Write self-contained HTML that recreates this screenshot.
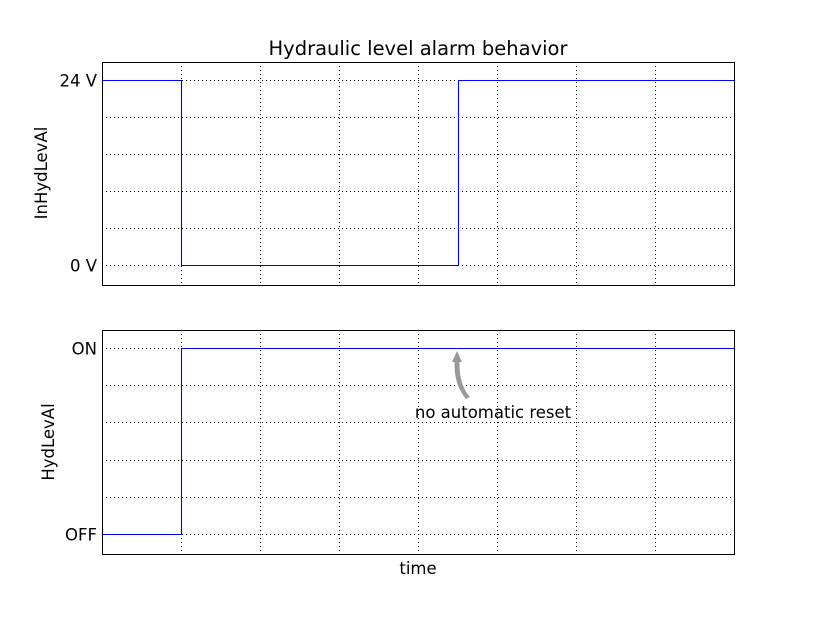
<!DOCTYPE html>
<html><head><meta charset="utf-8"><style>
body{margin:0;background:#fff}
text{font-family:"DejaVu Sans","Liberation Sans",sans-serif;fill:#000}
</style></head><body>
<svg id="chart" width="815" height="615" xmlns="http://www.w3.org/2000/svg">
<rect width="815" height="615" fill="#fff"/>
<text x="418" y="55" font-size="19.5" text-anchor="middle">Hydraulic level alarm behavior</text>
<g id="top"></g>
<g id="bot"></g>
<text x="47" y="173" font-size="16.5" text-anchor="middle" transform="rotate(-90 47 173)">InHydLevAl</text>
<text x="54" y="442" font-size="16.5" text-anchor="middle" transform="rotate(-90 54 442)">HydLevAl</text>
<text x="418" y="574" font-size="16.5" text-anchor="middle">time</text>
<path d="M457,351 L462,362 L459.5,362 Q459,385 470,397 L466,399 Q454,385 454.5,362 L452,362 Z" fill="#999"/>
<text x="493" y="418" font-size="16.5" text-anchor="middle">no automatic reset</text>
</svg>
<script>
const xTicks=[0,1,2,3,4,5,6,7,8];
const yTicks=[0,0.2,0.4,0.6,0.8,1];
const topStepX=[0,1,1,4.5,4.5,8];
const topStepY=[1,1,0,0,1,1];
const botStepX=[0,1,1,8];
const botStepY=[0,0,1,1];
const topLabels=[[0,'0 V'],[1,'24 V']];
const botLabels=[[0,'OFF'],[1,'ON']];
const NS='http://www.w3.org/2000/svg';
function panel(g,y0,y1,xs,ys,labels){
  const L=102,R=734;
  const sx=v=>Math.round(L+(R-L)*v/8)+0.5;
  const sy=v=>Math.round(y1-(y1-y0)*(v+0.1)/1.2)-0.5;
  xTicks.forEach(t=>{const l=document.createElementNS(NS,'line');
    
    
    l.setAttribute('x1',sx(t));l.setAttribute('x2',sx(t));l.setAttribute('y1',y0);l.setAttribute('y2',y1);
    l.setAttribute('stroke','#000');l.setAttribute('stroke-dasharray','1,3');l.setAttribute('stroke-width','1');g.appendChild(l);});
  yTicks.forEach(t=>{const l=document.createElementNS(NS,'line');
    
    
    l.setAttribute('x1',L);l.setAttribute('x2',R);l.setAttribute('y1',sy(t));l.setAttribute('y2',sy(t));
    l.setAttribute('stroke','#000');l.setAttribute('stroke-dasharray','1,3');g.appendChild(l);});
  labels.forEach(([v,s])=>{const t=document.createElementNS(NS,'text');
    
    
    t.setAttribute('x',97);t.setAttribute('y',sy(v)+6);t.setAttribute('text-anchor','end');t.setAttribute('font-size','16.5');t.textContent=s;g.appendChild(t);});
  const r=document.createElementNS(NS,'rect');
  
  
  r.setAttribute('x',L+0.5);r.setAttribute('y',y0+0.5);r.setAttribute('width',R-L);r.setAttribute('height',y1-y0);
  r.setAttribute('fill','none');r.setAttribute('stroke','#000');g.appendChild(r);
  const p=document.createElementNS(NS,'polyline');
  
  
  p.setAttribute('points',xs.map((x,i)=>sx(x)+','+sy(ys[i])).join(' '));
  p.setAttribute('fill','none');p.setAttribute('stroke','#0000ff');p.setAttribute('stroke-width','1.1');g.appendChild(p);
}
panel(document.getElementById('top'),62,285,topStepX,topStepY,topLabels);
panel(document.getElementById('bot'),330,554,botStepX,botStepY,botLabels);
</script>
</body></html>
